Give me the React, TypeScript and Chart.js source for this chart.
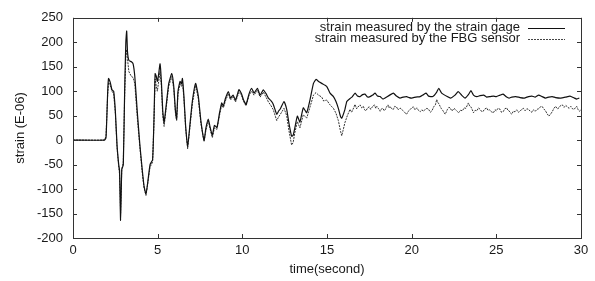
import React, { useEffect, useRef } from "react";
import { Chart, registerables } from "chart.js";

Chart.register(...registerables);

const gageTime = [0,1.85,1.95,2.05,2.1,2.2,2.3,2.4,2.5,2.6,2.7,2.75,2.81,2.88,2.97,3.05,3.12,3.17,3.22,3.3,3.45,3.55,3.65,3.8,3.95,4.1,4.2,4.31,4.4,4.55,4.7,4.78,4.85,4.92,4.98,5.06,5.14,5.22,5.3,5.38,5.5,5.65,5.83,5.95,6.05,6.12,6.2,6.32,6.4,6.46,6.55,6.65,6.77,6.9,7.05,7.24,7.4,7.55,7.74,7.85,7.99,8.1,8.23,8.35,8.5,8.65,8.78,8.88,9.0,9.18,9.3,9.45,9.6,9.8,9.95,10.06,10.22,10.4,10.55,10.69,10.89,11.05,11.24,11.4,11.54,11.7,11.83,12.03,12.15,12.23,12.46,12.62,12.75,12.91,13.0,13.1,13.25,13.4,13.6,13.8,14.0,14.2,14.35,14.5,14.69,14.98,15.18,15.38,15.53,15.67,15.8,15.87,16.06,16.17,16.36,16.5,16.66,16.8,16.95,17.1,17.24,17.4,17.54,17.7,17.84,17.98,18.13,18.3,18.43,18.7,18.92,19.1,19.31,19.5,19.7,19.85,20.0,20.25,20.5,20.7,20.85,21.0,21.25,21.48,21.6,21.77,22.1,22.3,22.56,22.75,22.95,23.15,23.35,23.5,23.65,23.85,24.04,24.25,24.43,24.65,24.83,25.0,25.22,25.4,25.61,25.75,25.91,26.15,26.4,26.65,26.9,27.1,27.3,27.5,27.7,27.9,28.1,28.3,28.5,28.8,29.1,29.35,29.6,29.75,29.9,30];
const gageStrain = [0,0,5,100,126,118,103,100,60,-10,-50,-62,-164,-60,-51,100,200,223,180,163,160,156,130,56,-10,-64,-95,-110,-90,-50,-40,40,136,130,120,135,156,120,60,36,70,115,136,110,60,43,100,120,115,126,90,30,-14,30,80,116,90,40,0,25,43,26,10,30,26,55,76,70,85,99,86,92,82,103,95,83,73,95,106,96,106,92,103,95,86,80,73,53,60,63,79,63,35,8,10,25,49,37,66,56,83,116,124,120,116,110,96,89,79,65,48,45,63,79,85,89,96,90,89,93,94,88,89,92,96,90,89,84,86,92,96,90,86,88,89,87,86,88,89,93,96,90,89,98,106,96,89,86,92,99,92,86,93,101,92,89,91,92,88,89,90,89,92,94,88,86,88,89,87,86,89,90,88,92,89,86,88,89,87,86,88,90,86,84,86];

const fbgTime = [0,1.85,1.95,2.05,2.1,2.2,2.3,2.4,2.5,2.6,2.7,2.75,2.81,2.88,2.97,3.05,3.12,3.17,3.22,3.3,3.45,3.55,3.65,3.8,3.95,4.1,4.2,4.31,4.4,4.55,4.7,4.78,4.85,4.92,4.98,5.06,5.14,5.22,5.3,5.38,5.5,5.65,5.83,5.95,6.05,6.12,6.2,6.32,6.4,6.46,6.55,6.65,6.77,6.9,7.05,7.24,7.4,7.55,7.74,7.85,7.99,8.1,8.23,8.35,8.5,8.65,8.78,8.88,9.0,9.18,9.3,9.45,9.6,9.8,9.95,10.06,10.22,10.4,10.55,10.69,10.89,11.05,11.24,11.4,11.54,11.7,11.83,12.03,12.15,12.23,12.46,12.62,12.75,12.91,13.0,13.1,13.25,13.4,13.6,13.8,14.0,14.2,14.35,14.5,14.69,14.8,14.98,15.18,15.38,15.53,15.67,15.8,15.87,15.95,
  16.06,16.2,16.3,16.36,16.45,16.5,16.6,16.65,16.75,16.8,16.9,16.95,17.05,17.15,17.22,17.3,17.4,17.5,17.58,17.64,17.72,17.8,17.88,17.94,18.05,18.14,18.22,18.3,18.38,18.43,18.52,18.6,18.66,18.72,18.82,18.92,19.0,19.1,19.2,19.31,19.4,19.5,19.6,19.7,19.8,19.9,20.0,20.1,20.2,20.3,20.4,20.5,20.6,20.7,20.8,20.9,21.0,21.1,21.2,21.3,21.4,21.48,21.55,21.6,21.68,21.76,21.85,21.92,21.98,22.05,22.1,22.2,22.27,22.35,22.4,22.5,22.57,22.68,22.77,22.88,23.0,23.1,23.2,23.28,23.35,23.42,23.5,23.58,23.65,23.75,23.85,23.95,24.04,24.12,24.2,24.3,24.43,24.5,24.6,24.7,24.83,24.92,25.0,25.1,25.22,25.3,25.4,25.5,25.61,25.68,25.75,25.82,25.91,26.0,26.1,26.2,26.3,26.4,26.5,26.6,26.7,26.8,26.9,27.0,27.1,27.2,27.3,27.4,27.5,27.6,27.7,27.8,27.9,28.0,28.1,28.2,28.3,28.4,28.5,28.6,28.7,28.8,28.9,29.0,29.1,29.2,29.3,29.4,29.5,29.6,29.68,29.75,29.82,29.9,30];
const fbgStrain = [0,0,8,95,118,112,100,95,55,-15,-55,-70,-150,-60,-45,90,170,185,165,140,130,128,115,45,-15,-70,-98,-113,-92,-55,-45,35,125,110,100,120,140,110,50,28,65,110,130,105,55,40,95,115,110,120,85,25,-18,25,75,112,85,35,-3,20,40,22,5,25,22,50,72,66,80,95,82,88,78,98,92,80,70,92,100,92,102,88,98,88,78,70,62,40,48,52,65,50,20,-10,-5,15,38,25,52,45,68,92,97,92,88,80,82,72,65,55,40,18,9,20,
  36,50,58,63,57,60,68,73,64,67,70,72,66,69,62,60,66,68,63,66,70,72,65,69,64,59,64,65,60,62,68,72,66,69,64,63,69,68,62,66,63,60,56,53,59,62,66,68,62,66,61,58,62,59,63,65,63,57,60,68,72,83,76,75,69,64,60,56,53,58,62,67,66,61,60,65,63,59,56,61,60,66,65,71,76,70,68,62,56,61,60,66,63,59,58,63,66,61,62,58,56,62,60,65,63,57,58,64,66,61,60,56,53,59,58,62,57,59,63,65,60,64,63,59,57,62,59,63,64,68,69,64,60,54,49,53,58,65,69,64,66,71,72,67,71,68,65,69,64,63,67,69,63,59,62];

const xTicks = [0, 5, 10, 15, 20, 25, 30];
const yTicks = [-200, -150, -100, -50, 0, 50, 100, 150, 200, 250];
const seriesLabels = ["strain measured by the strain gage", "strain measured by the FBG sensor"];
const xTitle = "time(second)";
const yTitle = "strain (E-06)";

const FONT = "'Liberation Sans', Arial, sans-serif";
const INK = "#1a1a1a";

const framePlugin = {
  id: "frame",
  afterDraw(chart: any) {
    const { ctx, chartArea } = chart;
    const { left, right, top, bottom } = chartArea;
    const xs = chart.scales.x;
    const ys = chart.scales.y;
    ctx.save();
    ctx.strokeStyle = "#333";
    ctx.lineWidth = 1;
    ctx.strokeRect(Math.round(left) + 0.5, Math.round(top) + 0.5, Math.round(right - left), Math.round(bottom - top));
    const tl = 4;
    ctx.beginPath();
    xTicks.forEach((v) => {
      const px = Math.round(xs.getPixelForValue(v)) + 0.5;
      ctx.moveTo(px, bottom); ctx.lineTo(px, bottom - tl);
      ctx.moveTo(px, top); ctx.lineTo(px, top + tl);
    });
    yTicks.forEach((v) => {
      const py = Math.round(ys.getPixelForValue(v)) + 0.5;
      ctx.moveTo(left, py); ctx.lineTo(left + tl, py);
      ctx.moveTo(right, py); ctx.lineTo(right - tl, py);
    });
    ctx.stroke();

    // legend
    ctx.font = `13px ${FONT}`;
    ctx.fillStyle = INK;
    ctx.textAlign = "right";
    ctx.textBaseline = "middle";
    const textX = right - 61;
    const rows = [top + 10, top + 21];
    seriesLabels.forEach((lab, i) => {
      ctx.fillText(lab, textX, rows[i]);
      ctx.beginPath();
      ctx.strokeStyle = i === 0 ? "#111" : "#444";
      ctx.setLineDash(i === 0 ? [] : [2, 1]);
      ctx.moveTo(textX + 8, Math.round(rows[i]) + 0.5);
      ctx.lineTo(textX + 45, Math.round(rows[i]) + 0.5);
      ctx.stroke();
    });
    ctx.restore();
  },
};

export default function App() {
  const ref = useRef<HTMLCanvasElement | null>(null);
  useEffect(() => {
    document.body.style.margin = "0";
    const canvas = ref.current!;
    const chart = new Chart(canvas, {
      type: "line",
      data: {
        datasets: [
          {
            label: seriesLabels[0],
            data: gageTime.map((t, i) => ({ x: t, y: gageStrain[i] })),
            borderColor: "#111",
            borderWidth: 1.2,
            pointRadius: 0,
            tension: 0.15,
          },
          {
            label: seriesLabels[1],
            data: fbgTime.map((t, i) => ({ x: t, y: fbgStrain[i] })),
            borderColor: "#333",
            borderWidth: 1,
            borderDash: [2, 1],
            pointRadius: 0,
            tension: 0,
          },
        ],
      },
      options: {
        animation: false,
        responsive: false,
        maintainAspectRatio: false,
        layout: { padding: { top: 13, right: 14, left: 0, bottom: 0 } },
        plugins: { legend: { display: false }, tooltip: { enabled: false } },
        scales: {
          x: {
            type: "linear",
            min: 0,
            max: 30,
            afterBuildTicks: (s: any) => { s.ticks = xTicks.map((v) => ({ value: v })); },
            afterFit: (s: any) => { s.height = 43; },
            grid: { display: false, drawTicks: false },
            border: { display: false },
            ticks: { color: INK, font: { family: FONT, size: 13 }, padding: 5, maxRotation: 0 },
            title: { display: true, text: xTitle, color: INK, font: { family: FONT, size: 13 }, padding: { top: 0, bottom: 4 } },
          },
          y: {
            type: "linear",
            min: -200,
            max: 250,
            afterBuildTicks: (s: any) => { s.ticks = yTicks.map((v) => ({ value: v })); },
            afterFit: (s: any) => { s.width = 73; },
            grid: { display: false, drawTicks: false },
            border: { display: false },
            ticks: { color: INK, font: { family: FONT, size: 13 }, padding: 10 },
            title: { display: true, text: yTitle, color: INK, font: { family: FONT, size: 13 }, padding: { top: 13, bottom: 0 } },
          },
        },
      },
      plugins: [framePlugin],
    });
    return () => chart.destroy();
  }, []);
  return (
    <div style={{ width: 595, height: 281, background: "#fff" }}>
      <canvas ref={ref} width={595} height={281} style={{ display: "block" }} />
    </div>
  );
}
